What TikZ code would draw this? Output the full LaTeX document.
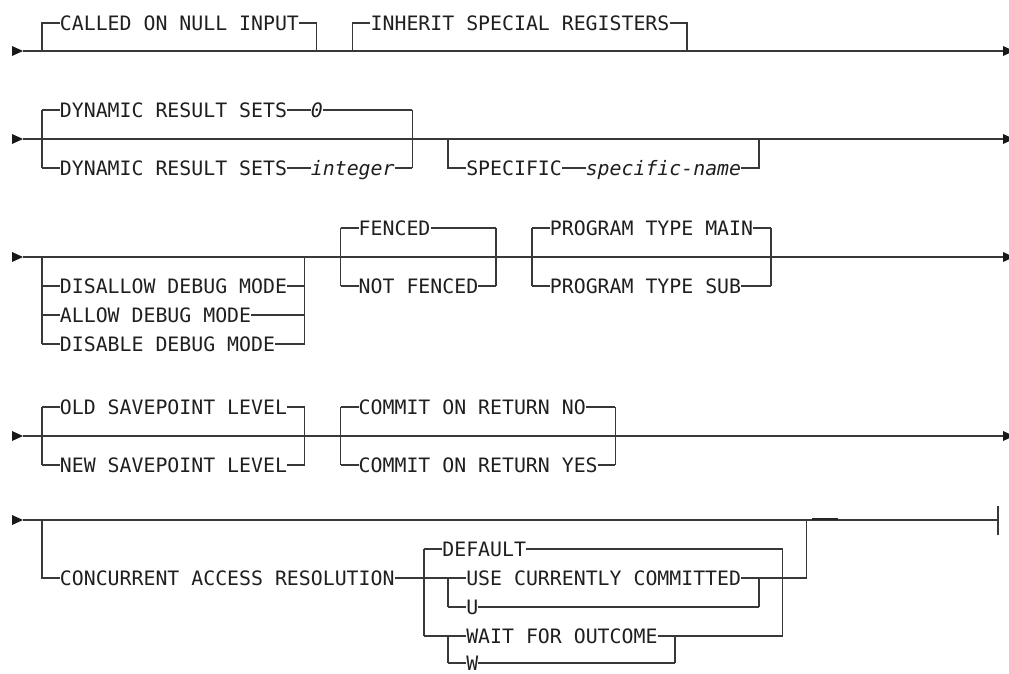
\documentclass[tikz,border=0pt]{standalone}
\usepackage{fontspec}
\newfontfamily\dgfont{DejaVu Sans Mono}
\newcommand\dgsize{\fontsize{19.85}{22}\selectfont}
\def\cw{11.95}
\tikzset{
  kw/.style={anchor=west, inner sep=0pt, text height=14.47pt, text depth=0pt, font=\dgfont\dgsize, text=black!88},
  var/.style={kw, font=\dgfont\dgsize\itshape},
  ln/.style={draw=black!78, line width=1.5pt},
  tip/.style={fill=black!90},
}
\newcommand\rrstarttip[1]{\fill[tip] (#1) -- +(-11,-5) -- +(-11,5) -- cycle;}
\newcommand\rrendtip[1]{\fill[tip] (#1) +(0,-5) -- +(11,0) -- +(0,5) -- cycle;}
\begin{document}
\begin{tikzpicture}[x=1pt,y=-1pt]
\useasboundingbox (0,0) rectangle (1009,673);
\clip (0,0) rectangle (1009,673);

% ---------------- Row 1 ----------------
\coordinate (s1) at (23,51);
\coordinate (e1) at (1003,51);
\draw[ln] (s1) -- (e1);
\rrstarttip{s1}
\rrendtip{e1}
\coordinate (j1a) at ({3.5*\cw},51);
\coordinate (j1b) at ({26.5*\cw},51);
\node[kw] (called) at ({5*\cw},23) {CALLED ON NULL INPUT};
\draw[ln] (j1a) |- (called.west);
\draw[ln] (called.east) -| (j1b);
\coordinate (j1c) at ({29.5*\cw},51);
\coordinate (j1d) at ({57.5*\cw},51);
\node[kw] (inherit) at ({31*\cw},23) {INHERIT SPECIAL REGISTERS};
\draw[ln] (j1c) |- (inherit.west);
\draw[ln] (inherit.east) -| (j1d);

% ---------------- Row 2 ----------------
\coordinate (s2) at (23,139);
\coordinate (e2) at (1003,139);
\draw[ln] (s2) -- (e2);
\rrstarttip{s2}
\rrendtip{e2}
\coordinate (j2at) at ({3.5*\cw},110);
\coordinate (j2ab) at ({3.5*\cw},168);
\coordinate (j2bt) at ({34.5*\cw},110);
\coordinate (j2bb) at ({34.5*\cw},168);
\draw[ln] (j2at) -- (j2ab);
\draw[ln] (j2bt) -- (j2bb);
\node[kw] (drs1) at ({5*\cw},110) {DYNAMIC RESULT SETS};
\node[var] (zero) at ({26*\cw},110) {0};
\node[kw] (drs2) at ({5*\cw},168) {DYNAMIC RESULT SETS};
\node[var] (integer) at ({26*\cw},168) {integer};
\draw[ln] (j2at) -- (drs1.west);
\draw[ln] (drs1.east) -- (zero.west);
\draw[ln] (zero.east) -- (j2bt);
\draw[ln] (j2ab) -- (drs2.west);
\draw[ln] (drs2.east) -- (integer.west);
\draw[ln] (integer.east) -- (j2bb);
\coordinate (j2c) at ({37.5*\cw},139);
\coordinate (j2d) at ({63.5*\cw},139);
\node[kw] (specific) at ({39*\cw},168) {SPECIFIC};
\node[var] (spname) at ({49*\cw},168) {specific-name};
\draw[ln] (j2c) |- (specific.west);
\draw[ln] (specific.east) -- (spname.west);
\draw[ln] (spname.east) -| (j2d);

% ---------------- Row 3 ----------------
\coordinate (s3) at (23,257);
\coordinate (e3) at (1003,257);
\draw[ln] (s3) -- (e3);
\rrstarttip{s3}
\rrendtip{e3}
\coordinate (j3a) at ({3.5*\cw},257);
\coordinate (j3ab) at ({3.5*\cw},344);
\coordinate (j3b) at ({25.5*\cw},257);
\coordinate (j3bb) at ({25.5*\cw},344);
\draw[ln] (j3a) -- (j3ab);
\draw[ln] (j3b) -- (j3bb);
\node[kw] (disallow) at ({5*\cw},286) {DISALLOW DEBUG MODE};
\node[kw] (allow) at ({5*\cw},315) {ALLOW DEBUG MODE};
\node[kw] (disable) at ({5*\cw},344) {DISABLE DEBUG MODE};
\draw[ln] ({3.5*\cw},286) -- (disallow.west);
\draw[ln] ({3.5*\cw},315) -- (allow.west);
\draw[ln] (j3ab) -- (disable.west);
\draw[ln] (disallow.east) -- ({25.5*\cw},286);
\draw[ln] (allow.east) -- ({25.5*\cw},315);
\draw[ln] (disable.east) -- (j3bb);
% fenced
\coordinate (j3ct) at ({28.5*\cw},228);
\coordinate (j3cb) at ({28.5*\cw},286);
\coordinate (j3dt) at ({41.5*\cw},228);
\coordinate (j3db) at ({41.5*\cw},286);
\draw[ln] (j3ct) -- (j3cb);
\draw[ln] (j3dt) -- (j3db);
\node[kw] (fenced) at ({30*\cw},228) {FENCED};
\node[kw] (notfenced) at ({30*\cw},286) {NOT FENCED};
\draw[ln] (j3ct) -- (fenced.west);
\draw[ln] (fenced.east) -- (j3dt);
\draw[ln] (j3cb) -- (notfenced.west);
\draw[ln] (notfenced.east) -- (j3db);
% program type
\coordinate (j3et) at ({44.5*\cw},228);
\coordinate (j3eb) at ({44.5*\cw},286);
\coordinate (j3ft) at ({64.5*\cw},228);
\coordinate (j3fb) at ({64.5*\cw},286);
\draw[ln] (j3et) -- (j3eb);
\draw[ln] (j3ft) -- (j3fb);
\node[kw] (ptmain) at ({46*\cw},228) {PROGRAM TYPE MAIN};
\node[kw] (ptsub) at ({46*\cw},286) {PROGRAM TYPE SUB};
\draw[ln] (j3et) -- (ptmain.west);
\draw[ln] (ptmain.east) -- (j3ft);
\draw[ln] (j3eb) -- (ptsub.west);
\draw[ln] (ptsub.east) -- (j3fb);

% ---------------- Row 4 ----------------
\coordinate (s4) at (23,436);
\coordinate (e4) at (1003,436);
\draw[ln] (s4) -- (e4);
\rrstarttip{s4}
\rrendtip{e4}
\coordinate (j4at) at ({3.5*\cw},407);
\coordinate (j4ab) at ({3.5*\cw},465);
\coordinate (j4bt) at ({25.5*\cw},407);
\coordinate (j4bb) at ({25.5*\cw},465);
\draw[ln] (j4at) -- (j4ab);
\draw[ln] (j4bt) -- (j4bb);
\node[kw] (oldsp) at ({5*\cw},407) {OLD SAVEPOINT LEVEL};
\node[kw] (newsp) at ({5*\cw},465) {NEW SAVEPOINT LEVEL};
\draw[ln] (j4at) -- (oldsp.west);
\draw[ln] (oldsp.east) -- (j4bt);
\draw[ln] (j4ab) -- (newsp.west);
\draw[ln] (newsp.east) -- (j4bb);
\coordinate (j4ct) at ({28.5*\cw},407);
\coordinate (j4cb) at ({28.5*\cw},465);
\coordinate (j4dt) at ({51.5*\cw},407);
\coordinate (j4db) at ({51.5*\cw},465);
\draw[ln] (j4ct) -- (j4cb);
\draw[ln] (j4dt) -- (j4db);
\node[kw] (comno) at ({30*\cw},407) {COMMIT ON RETURN NO};
\node[kw] (comyes) at ({30*\cw},465) {COMMIT ON RETURN YES};
\draw[ln] (j4ct) -- (comno.west);
\draw[ln] (comno.east) -- (j4dt);
\draw[ln] (j4cb) -- (comyes.west);
\draw[ln] (comyes.east) -- (j4db);

% ---------------- Row 5 ----------------
\coordinate (s5) at (23,520);
\coordinate (e5) at (998,520);
\coordinate (bart) at (998,506);
\coordinate (barb) at (998,535);
\draw[ln] (s5) -- (e5);
\draw[ln] (bart) -- (barb);
\rrstarttip{s5}
\draw[draw=black!85, line width=2pt] (812,518.5) -- (838,518.5);
\coordinate (j5a) at ({3.5*\cw},520);
\node[kw] (car) at ({5*\cw},578) {CONCURRENT ACCESS RESOLUTION};
\draw[ln] (j5a) |- (car.west);
% option group
\coordinate (j5bt) at ({35.5*\cw},549);
\coordinate (j5bb) at ({35.5*\cw},636);
\draw[ln] (j5bt) -- (j5bb);
\coordinate (j5ct) at ({65.5*\cw},549);
\coordinate (j5cb) at ({65.5*\cw},636);
\draw[ln] (j5ct) -- (j5cb);
\node[kw] (default) at ({37*\cw},549) {DEFAULT};
\draw[ln] (j5bt) -- (default.west);
\draw[ln] (default.east) -- (j5ct);
% use / u
\node[kw] (use) at ({39*\cw},578) {USE CURRENTLY COMMITTED};
\node[kw] (u) at ({39*\cw},607) {U};
\coordinate (j5dt) at ({37.5*\cw},578);
\coordinate (j5db) at ({37.5*\cw},607);
\coordinate (j5et) at ({63.5*\cw},578);
\coordinate (j5eb) at ({63.5*\cw},607);
\draw[ln] (car.east) -- (use.west);
\draw[ln] (j5dt) -- (j5db);
\draw[ln] (j5db) -- (u.west);
\draw[ln] (u.east) -- (j5eb);
\draw[ln] (j5eb) -- (j5et);
\coordinate (j5f) at ({67.5*\cw},520);
\draw[ln] (use.east) -| (j5f);
% wait / w
\node[kw] (wait) at ({39*\cw},636) {WAIT FOR OUTCOME};
\node[kw] (w) at ({39*\cw},663) {W};
\coordinate (j5gt) at ({37.5*\cw},636);
\coordinate (j5gb) at ({37.5*\cw},663);
\coordinate (j5ht) at ({56.5*\cw},636);
\coordinate (j5hb) at ({56.5*\cw},663);
\draw[ln] (j5bb) -- (wait.west);
\draw[ln] (wait.east) -- (j5cb);
\draw[ln] (j5gt) -- (j5gb);
\draw[ln] (j5gb) -- (w.west);
\draw[ln] (w.east) -- (j5hb);
\draw[ln] (j5hb) -- (j5ht);
\end{tikzpicture}
\end{document}
